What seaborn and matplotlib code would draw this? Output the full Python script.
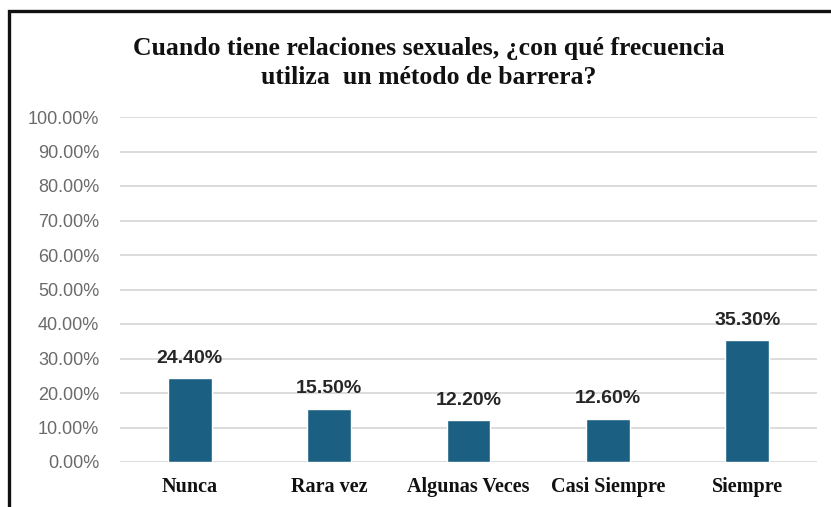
import matplotlib
matplotlib.use("Agg")
import matplotlib.pyplot as plt
import seaborn as sns
import pandas as pd
from matplotlib.patches import Rectangle
from matplotlib.ticker import FuncFormatter

categories = ["Nunca", "Rara vez", "Algunas Veces", "Casi Siempre", "Siempre"]
values = [24.40, 15.50, 12.20, 12.60, 35.30]
title = "Cuando tiene relaciones sexuales, ¿con qué frecuencia\nutiliza  un método de barrera?"

df = pd.DataFrame({"cat": categories, "val": values})

sns.set_style("white")
plt.rcParams['font.family'] = ['Liberation Sans', 'DejaVu Sans']

W, H = 831, 507
fig = plt.figure(figsize=(W / 100, H / 100), dpi=100)
ax = fig.add_axes([120 / W, 1 - 462 / H, (817 - 120) / W, (462 - 117) / H])

sns.barplot(data=df, x="cat", y="val", color="#1b5f82", width=0.315,
            saturation=1, ax=ax, zorder=3)

ax.set_ylim(0, 100)
ax.set_xlim(-0.5, 4.5)
ax.set_yticks(range(0, 101, 10))
ax.yaxis.set_major_formatter(FuncFormatter(lambda v, p: f"{v:.2f}%"))
ax.grid(axis="y", color="#d9d9d9", linewidth=1.3, zorder=0)
ax.set_axisbelow(True)
for s in ax.spines.values():
    s.set_visible(False)
ax.set_xlabel("")
ax.set_ylabel("")
ax.tick_params(axis="y", length=0, pad=15, labelsize=13, labelcolor="#6a6a6a")
ax.tick_params(axis="x", length=0, pad=11)
for lbl in ax.get_xticklabels():
    lbl.set_fontfamily("Liberation Serif")
    lbl.set_fontweight("bold")
    lbl.set_fontsize(14.5)
    lbl.set_color("#111111")

for container in ax.containers:
    ax.bar_label(container, labels=[f"{v:.2f}%" for v in values], padding=8,
                 fontsize=14, fontweight="bold", color="#262626")

fig.text(429 / W, 1 - 63 / H, title, ha="center", va="center",
         fontfamily="Liberation Serif", fontweight="bold", fontsize=18.5,
         linespacing=1.3, color="#111111")

rect = Rectangle((8.5 / W, -0.1), 1.2, 1 - 10.5 / H + 0.1, transform=fig.transFigure,
                 fill=False, edgecolor="#111111", linewidth=2.4, clip_on=False)
fig.patches.append(rect)

fig.savefig("out.png", dpi=100)
